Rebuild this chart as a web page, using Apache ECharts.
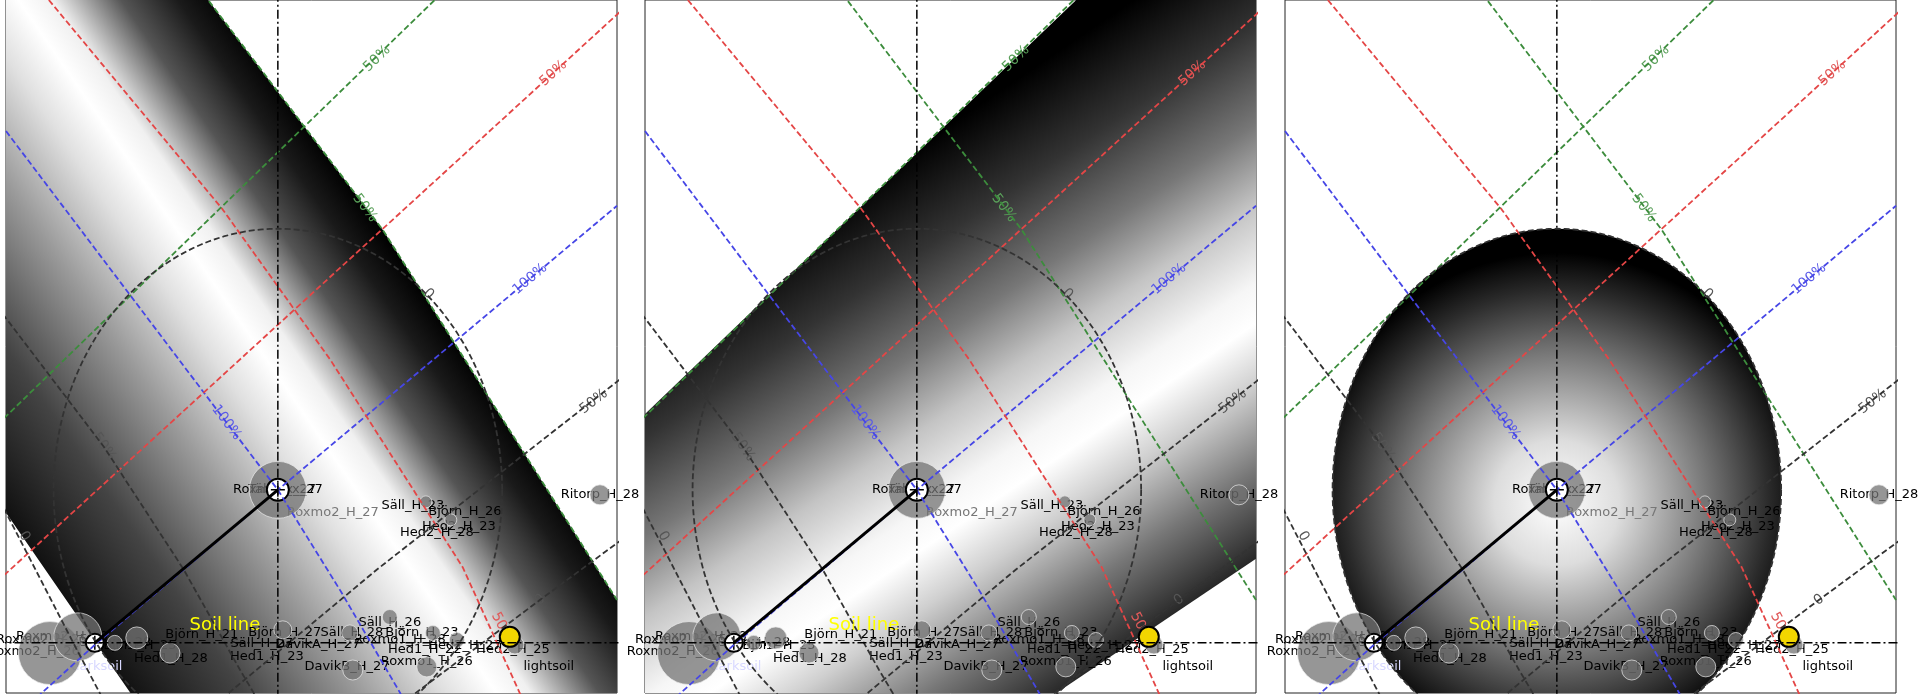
<!DOCTYPE html>
<html>
<head>
<meta charset="utf-8">
<script src="https://cdn.jsdelivr.net/npm/echarts/dist/echarts.min.js"></script>
<style>
html, body { margin: 0; padding: 0; background: #fff; }
#main { width: 1920px; height: 700px; }
</style>
</head>
<body>
<div id="main"></div>
<script>
// panel frames (px)
var panelLeft = [6, 645, 1285];
var panelWidth = 611, panelTop = 0, panelHeight = 693;
var xRange = [-1.212, 1.512], yRange = [-0.778, 1.876];

// reference lines (data units, centre of the circle = 0,0)
var blueDown = [[-1.212, 1.374], [-0.229, 0.258], [0, 0], [0.278, -0.385], [0.546, -0.779], [0.56, -0.82]];
var blueUp = [[-1.10, -0.82], [-1.059, -0.783], [-0.819, -0.596], [0, 0], [1.512, 1.088]];
var redUp = [[-1.25, -0.35], [1.55, 1.85]];
var redDown = [[-1.021, 1.876], [-0.246, 1.074], [0.235, 0.497], [0.824, -0.296], [1.081, -0.783]];
var greenUp = [[-1.25, 0.25], [0.74, 1.91]];
var greenDown = [[-0.33, 1.9], [-0.311, 1.876], [0.469, 0.994], [1.512, -0.422]];
var black50Down = [[-1.25, 0.70], [-0.775, 0.164], [-0.420, -0.305], [-0.169, -0.689], [-0.104, -0.783]];
var black0Down = [[-1.24, -0.04], [-0.912, -0.586], [-0.791, -0.783]];
var black50Up = [[-0.25, -0.80], [0.442, -0.305], [1.55, 0.44]];
var black0Up = [[0.58, -0.80], [1.168, -0.422], [1.55, -0.18]];
var soilLine = [[-0.816, -0.586], [0, 0]];
var vAxisLine = [[0, -0.8], [0, 1.9]];
var hAxisLine = [[-1.25, -0.586], [1.55, -0.586]];

// contour labels: text, x, y, rotation (deg), colour
var lineLabels = [
  ['100%', -0.229, 0.258, -53, '#5a5ae8'],
  ['100%', 1.124, 0.807, 40, '#5a5ae8'],
  ['50%', 1.228, 1.595, 42, '#e05a5a'],
  ['50%', 0.999, -0.525, -62, '#e05a5a'],
  ['50%', 0.442, 1.651, 44, '#5aa05a'],
  ['50%', 0.388, 1.079, -53, '#5aa05a'],
  ['50%', -0.775, 0.164, -55, '#555'],
  ['0', -1.130, -0.178, -60, '#555'],
  ['50%', 1.408, 0.338, 38, '#555'],
  ['0', 1.168, -0.422, 36, '#555'],
  ['0', 0.671, 0.750, -46, '#555']
];

// samples: x, y, marker size
var greyDisks = [
  [0, 0, 57],
  [-1.016, -0.625, 63], [-0.892, -0.563, 48], [-0.727, -0.586, 15], [-0.629, -0.567, 22], [-0.481, -0.625, 20],
  [0.022, -0.536, 18], [0.321, -0.548, 16], [0.334, -0.690, 20], [0.499, -0.487, 15], [0.664, -0.678, 20],
  [0.691, -0.548, 15], [0.798, -0.575, 15], [1.057, -0.594, 18],
  [0.660, -0.046, 12], [0.771, -0.115, 12],
  [1.436, -0.019, 20]
];
var whitePoints = [[-0.816, -0.586, 18], [0, 0, 22]];
var lightSoil = [[1.034, -0.563, 20]];

// sample names: text, x, y, colour, size
var pointLabels = [
  ['Roxmo2_x_27', 0, 0, '#000', 13],
  ['Täby_x_27', 0.02, 0, '#000', 13],
  ['Roxmo2_H_27', 0.245, -0.088, '#777', 13],
  ['Säll_H_23', 0.602, -0.061, '#000', 13],
  ['Björn_H_26', 0.834, -0.084, '#000', 13],
  ['Hed2_H_23', 0.807, -0.142, '#000', 13],
  ['Hed2_H_28', 0.709, -0.164, '#000', 13],
  ['Ritorp_H_28', 1.436, -0.019, '#000', 13],
  ['Roxmo2_H_25', -1.052, -0.575, '#000', 13],
  ['Roxmo2_H_26', -1.088, -0.621, '#000', 13],
  ['Roxmo2_H_28', -0.963, -0.563, '#000', 13],
  ['Björn_H_28', -0.727, -0.586, '#000', 13],
  ['Björn_H_25', -0.615, -0.598, '#000', 13],
  ['Hed1_H_28', -0.477, -0.647, '#000', 13],
  ['darksoil', -0.807, -0.678, '#d8d8ff', 13],
  ['Björn_H_21', -0.339, -0.556, '#000', 13],
  ['Soil line', -0.236, -0.517, '#ffff00', 18],
  ['Björn_H_27', 0.031, -0.548, '#000', 13],
  ['Säll_H_27', -0.071, -0.590, '#000', 13],
  ['DavikA_H_27', 0.178, -0.594, '#000', 13],
  ['Hed1_H_23', -0.049, -0.640, '#000', 13],
  ['Säll_H_26', 0.499, -0.510, '#000', 13],
  ['Säll_H_28', 0.330, -0.548, '#000', 13],
  ['Björn_H_23', 0.642, -0.548, '#000', 13],
  ['Roxmo1_H_28', 0.544, -0.575, '#000', 13],
  ['Hed1_H_22', 0.655, -0.613, '#000', 13],
  ['Hed2_H_27', 0.834, -0.598, '#000', 13],
  ['Roxmo1_H_26', 0.664, -0.659, '#000', 13],
  ['DavikB_H_27', 0.308, -0.678, '#000', 13],
  ['Hed2_H_25', 1.048, -0.613, '#000', 13],
  ['lightsoil', 1.208, -0.678, '#000', 13]
];

// shaded regions
var band1 = [[-0.420, 2.017], [-0.311, 1.876], [0.469, 0.994], [1.512, -0.422], [1.818, -0.844], [-0.453, -1.032], [-2.904, 2.017]];
var band1Grad = [[0.469, 0.994], [-1.258, -0.030]];
var band1Stops = [[0, '#000'], [0.08, '#1a1a1a'], [0.18, '#555'], [0.3, '#f0f0f0'], [0.36, '#fff'], [0.45, '#e0e0e0'], [0.6, '#9a9a9a'], [0.8, '#444'], [1, '#111']];
var band2 = [[-2.331, -0.633], [1.217, 2.294], [3.128, 2.294], [3.128, 0.671], [-2.331, -2.486]];
var band2Grad = [[0.655, 1.745], [2.033, -0.003]];
var band2Stops = [[0, '#000'], [0.02, '#000'], [0.18, '#333'], [0.33, '#777'], [0.45, '#c4c4c4'], [0.57, '#f6f6f6'], [0.63, '#fff'], [0.72, '#cfcfcf'], [0.85, '#777'], [0.98, '#2a2a2a'], [1, '#111']];
var disc3Centre = [0, -0.05];
var disc3Stops = [[0, '#fff'], [0.25, '#ddd'], [0.6, '#777'], [0.85, '#2a2a2a'], [1, '#000']];

var chart = echarts.init(document.getElementById('main'));

function stops(list) {
  return list.map(function (s) { return { offset: s[0], color: s[1] }; });
}

function unitCircle() {
  var pts = [];
  for (var i = 0; i <= 180; i++) {
    var a = i / 180 * Math.PI * 2;
    pts.push([Math.cos(a), Math.sin(a)]);
  }
  return pts;
}
var circlePts = unitCircle();

function fillRender(p) {
  return function (params, api) {
    var pts, fill;
    if (p === 2) {
      pts = circlePts.map(function (q) { return api.coord(q); });
      var c = api.coord(disc3Centre);
      fill = new echarts.graphic.RadialGradient(c[0], c[1], 250, stops(disc3Stops), true);
    } else {
      var poly = p === 0 ? band1 : band2;
      var g = p === 0 ? band1Grad : band2Grad;
      pts = poly.map(function (q) { return api.coord(q); });
      var a = api.coord(g[0]), b = api.coord(g[1]);
      fill = new echarts.graphic.LinearGradient(a[0], a[1], b[0], b[1], stops(p === 0 ? band1Stops : band2Stops), true);
    }
    var cs = params.coordSys;
    return {
      type: 'polygon',
      shape: { points: pts },
      style: { fill: fill },
      clipPath: { type: 'rect', shape: { x: cs.x, y: cs.y, width: cs.width, height: cs.height } }
    };
  };
}

function dashed(p, data, color, type, width) {
  return {
    type: 'line', xAxisIndex: p, yAxisIndex: p, data: data,
    symbol: 'none', silent: true, clip: true,
    lineStyle: { color: color, width: width || 1.8, type: type || [6, 3] }
  };
}

var grids = [], xAxes = [], yAxes = [], series = [];
for (var p = 0; p < 3; p++) {
  grids.push({ left: panelLeft[p], top: panelTop, width: panelWidth, height: panelHeight, show: true, borderColor: '#222', borderWidth: 1, backgroundColor: 'transparent' });
  xAxes.push({ gridIndex: p, type: 'value', min: xRange[0], max: xRange[1], show: false });
  yAxes.push({ gridIndex: p, type: 'value', min: yRange[0], max: yRange[1], show: false });

  series.push({ type: 'custom', xAxisIndex: p, yAxisIndex: p, data: [[0, 0]], clip: true, silent: true, renderItem: fillRender(p) });

  series.push(dashed(p, blueDown, '#4646e6'));
  series.push(dashed(p, blueUp, '#4646e6'));
  series.push(dashed(p, redUp, '#e44646'));
  series.push(dashed(p, redDown, '#e44646'));
  series.push(dashed(p, greenUp, '#3c8c3c'));
  series.push(dashed(p, greenDown, '#3c8c3c'));
  series.push(dashed(p, black50Down, '#333'));
  series.push(dashed(p, black0Down, '#333'));
  series.push(dashed(p, black50Up, '#333'));
  series.push(dashed(p, black0Up, '#333'));
  series.push(dashed(p, circlePts, '#333'));
  series.push(dashed(p, vAxisLine, '#000', [9, 3, 2, 3], 1.5));
  series.push(dashed(p, hAxisLine, '#000', [9, 3, 2, 3], 1.5));
  series.push(dashed(p, soilLine, '#000', 'solid', 3));

  // contour labels
  series.push({
    type: 'custom', xAxisIndex: p, yAxisIndex: p, silent: true,
    data: lineLabels.map(function (l) { return [l[1], l[2]]; }),
    renderItem: function (params, api) {
      var l = lineLabels[params.dataIndex];
      var pt = api.coord([l[1], l[2]]);
      return {
        type: 'text', x: pt[0], y: pt[1], rotation: l[3] * Math.PI / 180,
        style: { text: l[0], fill: l[4], fontSize: 14, fontFamily: 'DejaVu Sans', align: 'center', verticalAlign: 'middle' }
      };
    }
  });

  series.push({
    type: 'scatter', xAxisIndex: p, yAxisIndex: p, silent: true, data: greyDisks,
    symbolSize: function (d) { return d[2]; },
    itemStyle: { color: 'rgba(115,115,115,0.75)', borderColor: 'rgba(235,235,235,0.7)', borderWidth: 1, opacity: 1 }
  });
  series.push({
    type: 'scatter', xAxisIndex: p, yAxisIndex: p, silent: true, data: whitePoints,
    symbolSize: function (d) { return d[2]; },
    itemStyle: { color: '#fff', borderColor: '#000', borderWidth: 2, opacity: 1 }
  });
  series.push({
    type: 'scatter', xAxisIndex: p, yAxisIndex: p, silent: true, data: whitePoints,
    symbol: 'path://M0,5L10,5M5,0L5,10', symbolSize: 14,
    itemStyle: { color: 'none', borderColor: '#000', borderWidth: 1.5, opacity: 1 }
  });
  series.push({
    type: 'scatter', xAxisIndex: p, yAxisIndex: p, silent: true, data: lightSoil,
    symbolSize: function (d) { return d[2]; },
    itemStyle: { color: '#f2d600', borderColor: '#000', borderWidth: 2, opacity: 1 }
  });

  // sample names
  series.push({
    type: 'custom', xAxisIndex: p, yAxisIndex: p, silent: true,
    data: pointLabels.map(function (l) { return [l[1], l[2]]; }),
    renderItem: function (params, api) {
      var l = pointLabels[params.dataIndex];
      var pt = api.coord([l[1], l[2]]);
      return {
        type: 'text', x: pt[0], y: pt[1],
        style: { text: l[0], fill: l[3], fontSize: l[4], fontFamily: 'DejaVu Sans', align: 'center', verticalAlign: 'middle' }
      };
    }
  });
}

chart.setOption({
  animation: false,
  backgroundColor: '#fff',
  grid: grids,
  xAxis: xAxes,
  yAxis: yAxes,
  series: series
});
</script>
</body>
</html>
